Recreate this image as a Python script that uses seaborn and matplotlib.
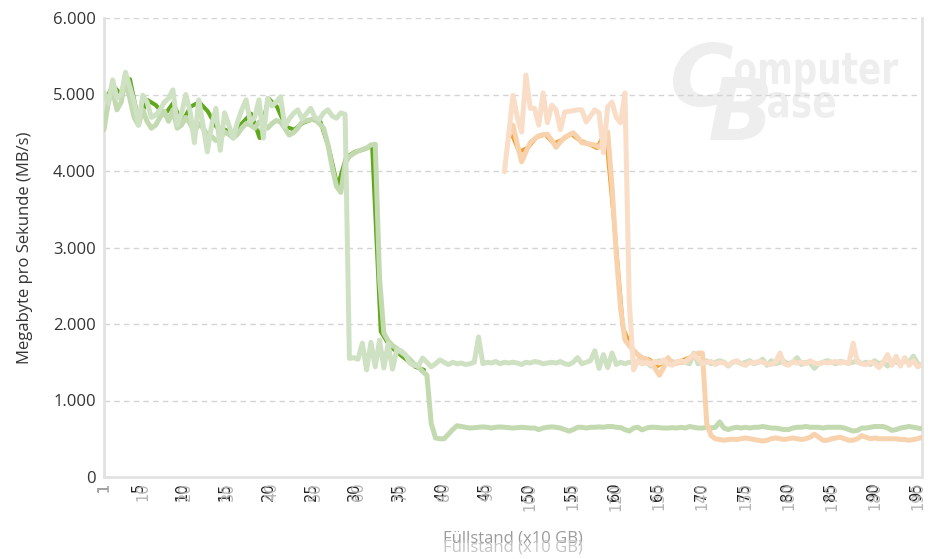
import numpy as np
import matplotlib
matplotlib.use("Agg")
import matplotlib.pyplot as plt
import seaborn as sns
from matplotlib.textpath import TextPath
from matplotlib.font_manager import FontProperties
from matplotlib.patches import PathPatch
from matplotlib.transforms import Affine2D, IdentityTransform

# --- data -------------------------------------------------------------
# pale series, Füllstand 1..191 (x10 GB)
fill_gray = np.arange(1, 192)
green_low = [4540, 4900, 5050, 4800, 4900, 5200, 4950, 4700, 4600, 4800,
             4650, 4560, 4600, 4700, 4780, 4650, 4800, 4560, 4600, 4700,
             4620, 4500, 4620, 4560, 4480, 4450, 4400, 4420, 4510, 4480,
             4430, 4480, 4560, 4620, 4600, 4560, 4640, 4600, 4560, 4620,
             4660, 4640, 4560, 4470, 4500, 4560, 4640, 4660, 4670, 4680,
             4620, 4560, 4350, 4050, 3800, 3720, 4100, 4190, 4230, 4260,
             4280, 4300, 4340, 4350, 2600, 1880, 1780, 1720, 1680, 1630,
             1590, 1540, 1480, 1440, 1380, 1330, 700, 510, 500, 500,
             560, 620, 670, 660, 650, 640, 645, 650, 655, 650,
             640, 650, 655, 650, 645, 640, 645, 650, 645, 640,
             640, 620, 640, 650, 655, 650, 640, 620, 600, 620,
             650, 650, 640, 650, 650, 655, 650, 660, 660, 650,
             645, 620, 600, 640, 650, 615, 640, 650, 650, 645,
             640, 640, 645, 640, 650, 640, 660, 650, 640, 640,
             650, 640, 650, 720, 640, 620, 640, 650, 640, 650,
             640, 650, 650, 660, 650, 640, 640, 630, 620, 620,
             640, 650, 650, 660, 650, 650, 650, 640, 650, 650,
             650, 650, 640, 620, 600, 610, 640, 640, 650, 660,
             660, 660, 640, 610, 620, 640, 650, 660, 650, 640,
             630]
green_high = [5030, 4880, 5190, 4950, 5000, 5290, 5100, 4900, 4600, 4990,
              4900, 4700, 4730, 4800, 4900, 4950, 5060, 4600, 4750, 5000,
              4780, 4370, 4930, 4600, 4250, 4600, 4820, 4270, 4760, 4600,
              4430, 4640, 4800, 4930, 4640, 4700, 4930, 4430, 4950, 4850,
              4900, 4970, 4580, 4680, 4750, 4800, 4680, 4750, 4820, 4700,
              4670, 4760, 4800, 4720, 4690, 4760, 4740, 1550, 1560, 1540,
              1750, 1400, 1760, 1440, 1790, 1425, 1740, 1410, 1660, 1650,
              1600, 1490, 1460, 1450, 1555, 1500, 1440, 1480, 1530, 1500,
              1470, 1500, 1480, 1490, 1470, 1480, 1500, 1830, 1480, 1500,
              1490, 1510, 1480, 1500, 1490, 1500, 1490, 1470, 1500, 1490,
              1510, 1500, 1480, 1490, 1500, 1490, 1510, 1480, 1470, 1500,
              1560, 1480, 1500, 1520, 1650, 1420, 1600, 1430, 1620, 1470,
              1500, 1480, 1500, 1490, 1520, 1480, 1500, 1450, 1500, 1520,
              1480, 1500, 1510, 1490, 1500, 1500, 1480, 1620, 1480, 1500,
              1520, 1480, 1500, 1520, 1500, 1450, 1500, 1510, 1480, 1500,
              1520, 1480, 1500, 1540, 1460, 1520, 1480, 1500, 1510, 1480,
              1500, 1560, 1470, 1500, 1490, 1420, 1480, 1500, 1520, 1500,
              1480, 1510, 1500, 1490, 1500, 1520, 1480, 1500, 1470, 1520,
              1480, 1500, 1450, 1520, 1500, 1480, 1520, 1500, 1580, 1480,
              1460]
fill_orange_low = np.arange(95, 192)
orange_low = [4450, 4600, 4350, 4120, 4250, 4370, 4420, 4460, 4475, 4480,
              4400, 4310, 4380, 4440, 4470, 4500, 4440, 4370, 4360, 4350,
              4340, 4310, 4400, 4510, 3800, 2900, 2200, 1790, 1720, 1650,
              1600, 1560, 1540, 1500, 1420, 1330, 1430, 1560, 1480, 1490,
              1500, 1510, 1540, 1580, 1620, 1620, 700, 540, 500, 490,
              480, 490, 495, 490, 500, 510, 500, 490, 480, 470,
              480, 500, 510, 500, 490, 500, 510, 500, 490, 500,
              520, 560, 520, 480, 480, 500, 510, 520, 500, 480,
              480, 500, 540, 520, 500, 510, 500, 500, 500, 500,
              500, 490, 490, 480, 490, 500, 520]
fill_orange_high = np.arange(94, 192)
orange_high = [3990, 4480, 4990, 4700, 4510, 5255, 4820, 4820, 4600, 5020,
               4630, 4860, 4800, 4540, 4770, 4780, 4790, 4800, 4800, 4640,
               4720, 4800, 4760, 4240, 4840, 4900, 4700, 4630, 5020, 2300,
               1400, 1520, 1480, 1500, 1470, 1510, 1490, 1530, 1480, 1460,
               1500, 1520, 1500, 1560, 1600, 1540, 1480, 1500, 1510, 1470,
               1500, 1490, 1460, 1500, 1520, 1480, 1460, 1500, 1490, 1510,
               1500, 1480, 1470, 1500, 1620, 1480, 1460, 1510, 1490, 1500,
               1480, 1520, 1490, 1480, 1500, 1490, 1500, 1510, 1490, 1500,
               1480, 1750, 1500, 1480, 1470, 1500, 1490, 1430, 1500, 1600,
               1460, 1580, 1450, 1560, 1460, 1520, 1440, 1470]

# highlighted series, Füllstand 1..95
fill_green_dark = np.arange(1, 39)
green_dark = [4880, 5120, 5000, 5200, 4650, 4930, 4860, 4730, 4890, 4630,
              4840, 4900, 4780, 4575, 4540, 4490, 4630, 4750, 4430, 4950,
              4840, 4580, 4540, 4630, 4670, 4650, 4300, 3800, 4180, 4250,
              4280, 4330, 1900, 1720, 1620, 1530, 1440, 1400]
fill_orange_dark = np.arange(48, 71)
orange_dark = [4520, 4250, 4305, 4440, 4478, 4360, 4410, 4485, 4400, 4355,
               4300, 4520, 3300, 1950, 1690, 1560, 1540, 1450, 1520, 1500,
               1530, 1580, 1620]

dark_ticks = [1, 5, 10, 15, 20, 25, 30, 35, 40, 45, 50, 55, 60, 65, 70, 75, 80, 85, 90, 95]
gray_ticks = [1, 10, 20, 30, 40, 50, 60, 70, 80, 90, 100, 110, 120, 130, 140, 150, 160, 170, 180, 190]
y_ticks = [0, 1000, 2000, 3000, 4000, 5000, 6000]
y_labels = ["0", "1.000", "2.000", "3.000", "4.000", "5.000", "6.000"]

# --- style ------------------------------------------------------------
sns.set_style("white")
plt.rcParams['font.family'] = ['Open Sans', 'DejaVu Sans']

W, H = 942, 559
fig = plt.figure(figsize=(W / 100, H / 100), dpi=100)
ax = fig.add_axes([104 / W, 1 - 477 / H, 818 / W, 459 / H])
ax.patch.set_alpha(0)


def stamp(ax, text, box, italic=False):
    fp = FontProperties(family='DejaVu Sans', weight='bold',
                        style='oblique' if italic else 'normal')
    tp = TextPath((0, 0), text, size=100, prop=fp)
    ext = tp.get_extents()
    x0, y0, x1, y1 = box
    tr = (Affine2D().translate(-ext.x0, -ext.y0)
          .scale((x1 - x0) / ext.width, (y1 - y0) / ext.height)
          .translate(x0, H - y1))
    ax.add_artist(PathPatch(tr.transform_path(tp), facecolor='#eeeeee',
                            edgecolor='none', transform=IdentityTransform(),
                            zorder=0.2))


# ComputerBase watermark
stamp(ax, "C", (673, 42, 733, 107), italic=True)
stamp(ax, "omputer", (735, 53, 898, 93))
stamp(ax, "B", (710, 77, 768, 140), italic=True)
stamp(ax, "ase", (768, 92, 835, 118))

lw_kw = dict(solid_joinstyle='round', solid_capstyle='round')

# highlighted lines (underneath)
sns.lineplot(x=fill_green_dark, y=green_dark, ax=ax, color='#5ea81a',
             linewidth=2.9, sort=False, estimator=None, **lw_kw)
sns.lineplot(x=fill_orange_dark, y=orange_dark, ax=ax, color='#efa02a',
             linewidth=2.9, sort=False, estimator=None, **lw_kw)

ax.set_xlim(1, 95.57)
ax.set_ylim(0, 6000)
ax.set_yticks(y_ticks)
ax.set_yticklabels(y_labels)
ax.set_xticks(dark_ticks)
ax.set_xticklabels([str(t) for t in dark_ticks], rotation=90,
                   fontfamily='DejaVu Sans', color='#222222', fontsize=10.5)
ax.tick_params(axis='both', length=0)
ax.tick_params(axis='y', labelsize=12, labelcolor='#333333', pad=6)
ax.tick_params(axis='x', pad=4)
ax.yaxis.grid(True, linestyle=(0, (4, 3)), color='#d4d4d4', linewidth=1)
ax.set_axisbelow(True)
for side in ['left', 'bottom', 'right']:
    ax.spines[side].set_color('#e2e2e2')
    ax.spines[side].set_linewidth(2)
ax.spines['top'].set_visible(False)
ax.set_ylabel("Megabyte pro Sekunde (MB/s)", fontsize=12, color='#333333', labelpad=14)
ax.set_xlabel("Füllstand (x10 GB)", fontsize=12, color='#9a9a9a', labelpad=21)

# pale lines on an overlaid x axis (on top)
ax2 = ax.twiny()
ax2.patch.set_alpha(0)
sns.lineplot(x=fill_gray, y=green_low, ax=ax2, color='#c3d9b0',
             linewidth=3.6, sort=False, estimator=None, **lw_kw)
sns.lineplot(x=fill_gray, y=green_high, ax=ax2, color='#cfe1c3',
             linewidth=3.6, sort=False, estimator=None, **lw_kw)
sns.lineplot(x=fill_orange_low, y=orange_low, ax=ax2, color='#f8d2ad',
             linewidth=3.6, sort=False, estimator=None, **lw_kw)
sns.lineplot(x=fill_orange_high, y=orange_high, ax=ax2, color='#f9ddc6',
             linewidth=3.6, sort=False, estimator=None, **lw_kw)
ax2.set_xlim(1, 191)
ax2.xaxis.set_ticks_position('bottom')
ax2.xaxis.set_label_position('bottom')
ax2.set_xticks(gray_ticks)
ax2.set_xticklabels([str(t) for t in gray_ticks], rotation=90,
                    fontfamily='DejaVu Sans', color='#b4b4b4', fontsize=10.5)
ax2.tick_params(axis='x', length=0, pad=4)
for s in ax2.spines.values():
    s.set_visible(False)
ax2.set_xlabel("Füllstand (x10 GB)", fontsize=12, color='#c4c4c4', labelpad=21)

ax.set_zorder(0)
ax2.set_zorder(1)

fig.savefig("out.png", dpi=100, facecolor='white')
